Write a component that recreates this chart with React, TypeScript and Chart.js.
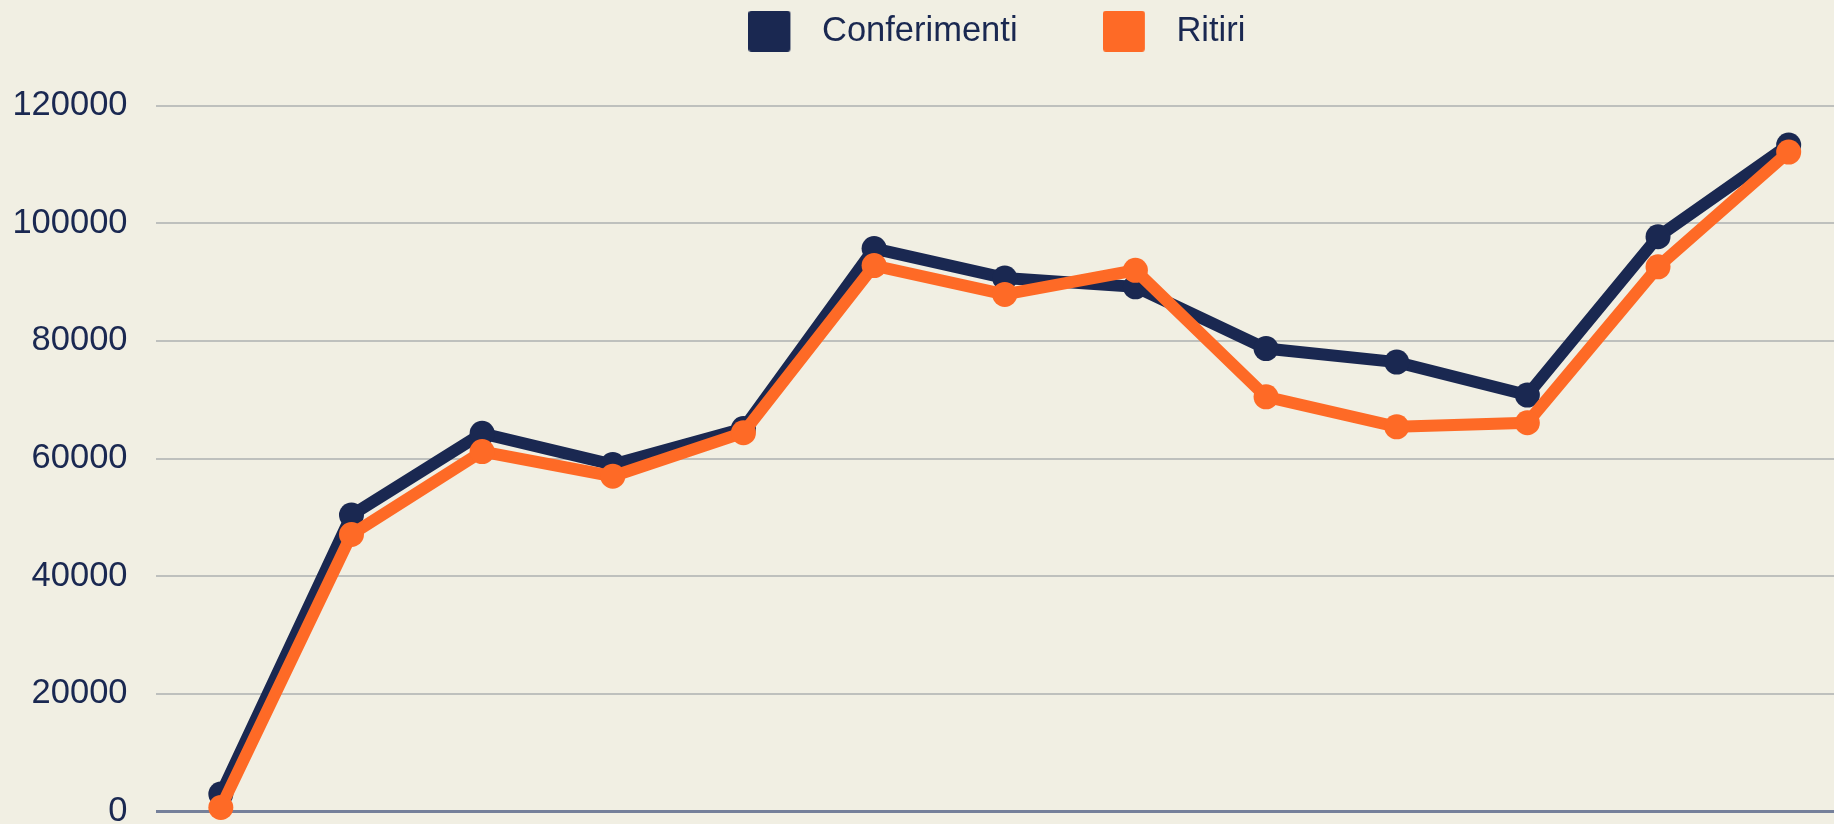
import React, { useEffect, useRef } from 'react';
import { Chart, registerables } from 'chart.js';

Chart.register(...registerables);

// ---- data ----
const categories = ['2010', '2011', '2012', '2013', '2014', '2015', '2016', '2017', '2018', '2019', '2020', '2021', '2022'];
const conferimenti = [3000, 50400, 64300, 59000, 65100, 95700, 90700, 89200, 78700, 76400, 70800, 97700, 113300];
const ritiri = [700, 47100, 61200, 57000, 64400, 92800, 87900, 92000, 70500, 65400, 66100, 92600, 112100];
const seriesNames = ['Conferimenti', 'Ritiri'];
const yTicks = [0, 20000, 40000, 60000, 80000, 100000, 120000];
const yMin = 0;
const yMax = 128000;

// ---- styles ----
const NAVY = '#1a2851';
const ORANGE = '#fe6a26';
const BG = '#f1efe3';
const GRID = '#bec0bd';
const BASE = '#75809a';
const FONT = 'Liberation Sans, Arial, sans-serif';
const FONT_SIZE = 34.5;

const CANVAS_W = 1854;
const CANVAS_H = 959;
const OFFSET_TOP = -87.25;

// legend swatch: 42x41 rounded square at the left of a 72px-wide image
function swatch(color: string): HTMLCanvasElement {
  const c = document.createElement('canvas');
  c.width = 72;
  c.height = 41;
  const g = c.getContext('2d')!;
  const w = 42, h = 41, r = 3;
  g.fillStyle = color;
  g.beginPath();
  g.moveTo(r, 0);
  g.lineTo(w - r, 0);
  g.arcTo(w, 0, w, r, r);
  g.lineTo(w, h - r);
  g.arcTo(w, h, w - r, h, r);
  g.lineTo(r, h);
  g.arcTo(0, h, 0, h - r, r);
  g.lineTo(0, r);
  g.arcTo(0, 0, r, 0, r);
  g.closePath();
  g.fill();
  return c;
}

export default function App() {
  const ref = useRef<HTMLCanvasElement | null>(null);

  useEffect(() => {
    if (!ref.current) return;
    const swatches: Record<string, HTMLCanvasElement> = {
      [NAVY]: swatch(NAVY),
      [ORANGE]: swatch(ORANGE),
    };
    const chart = new Chart(ref.current, {
      type: 'line',
      data: {
        labels: categories,
        datasets: [
          {
            label: seriesNames[1],
            data: ritiri,
            borderColor: ORANGE,
            backgroundColor: ORANGE,
            pointBackgroundColor: ORANGE,
            borderWidth: 12,
            pointRadius: 12.5,
            pointBorderWidth: 0,
            pointHoverRadius: 12.5,
            tension: 0,
            clip: false,
          },
          {
            label: seriesNames[0],
            data: conferimenti,
            borderColor: NAVY,
            backgroundColor: NAVY,
            pointBackgroundColor: NAVY,
            borderWidth: 12,
            pointRadius: 12.5,
            pointBorderWidth: 0,
            pointHoverRadius: 12.5,
            tension: 0,
            clip: false,
          },
        ],
      },
      options: {
        responsive: false,
        animation: false,
        devicePixelRatio: 1,
        layout: { autoPadding: false, padding: { left: 0, right: 0, top: 0, bottom: 60.35 } },
        plugins: {
          tooltip: { enabled: false },
          legend: {
            display: true,
            position: 'top',
            align: 'center',
            fullSize: false,
            reverse: true,
            labels: {
              usePointStyle: true,
              pointStyleWidth: 40.65,
              padding: 101,
              color: NAVY,
              font: { family: FONT, size: FONT_SIZE },
              generateLabels: (ch: any) => {
                const items = Chart.defaults.plugins.legend.labels.generateLabels(ch);
                return items.map((it: any) => ({
                  ...it,
                  pointStyle: swatches[ch.data.datasets[it.datasetIndex].borderColor],
                  fontColor: NAVY,
                }));
              },
            },
          },
        },
        scales: {
          x: {
            type: 'category',
            offset: true,
            grid: { display: false, drawTicks: false },
            border: { display: false },
            ticks: { display: false },
          },
          y: {
            min: yMin,
            max: yMax,
            afterFit: (s: any) => {
              s.width = 155.5;
            },
            afterBuildTicks: (s: any) => {
              s.ticks = yTicks.map((v) => ({ value: v }));
            },
            border: { display: false },
            grid: {
              drawTicks: false,
              color: (ctx: any) => (ctx.tick && ctx.tick.value === 0 ? BASE : GRID),
              lineWidth: (ctx: any) => (ctx.tick && ctx.tick.value === 0 ? 3 : 2),
            },
            ticks: {
              padding: 28,
              color: NAVY,
              font: { family: FONT, size: FONT_SIZE },
              callback: (v: any) => String(v),
            },
          },
        },
      },
    } as any);
    return () => chart.destroy();
  }, []);

  return (
    <div
      style={{
        position: 'fixed',
        left: 0,
        top: 0,
        width: 1834,
        height: 824,
        overflow: 'hidden',
        background: BG,
      }}
    >
      <canvas
        ref={ref}
        width={CANVAS_W}
        height={CANVAS_H}
        style={{
          position: 'absolute',
          left: 0,
          top: OFFSET_TOP,
          width: CANVAS_W,
          height: CANVAS_H,
          display: 'block',
        }}
      />
    </div>
  );
}
